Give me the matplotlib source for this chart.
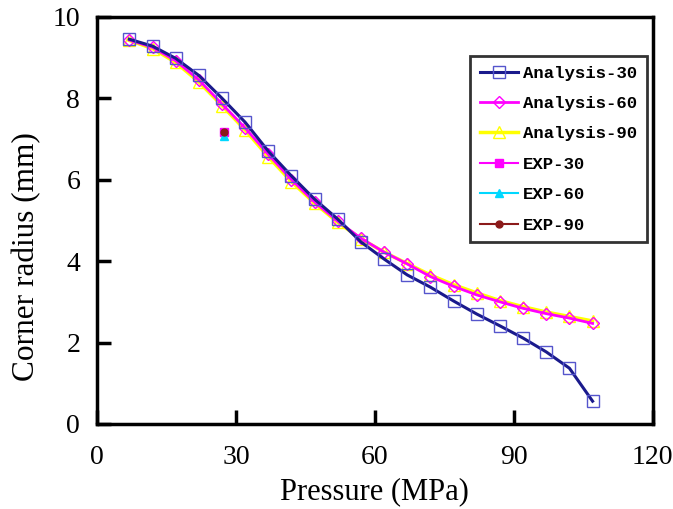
import numpy as np
import matplotlib.pyplot as plt

pressure = [7, 12, 17, 22, 27, 32, 37, 42, 47, 52, 57, 62, 67, 72, 77, 82, 87, 92, 97, 102, 107]
analysis_30 = [9.45, 9.28, 8.98, 8.56, 8.0, 7.41, 6.7, 6.09, 5.52, 5.03, 4.47, 4.05, 3.66, 3.36, 3.02, 2.7, 2.41, 2.11, 1.77, 1.37, 0.56]
analysis_60 = [9.43, 9.25, 8.92, 8.45, 7.86, 7.27, 6.62, 6.0, 5.45, 4.98, 4.56, 4.22, 3.93, 3.62, 3.38, 3.17, 3.0, 2.84, 2.71, 2.6, 2.47]
analysis_90 = [9.42, 9.22, 8.88, 8.40, 7.82, 7.22, 6.56, 5.95, 5.42, 4.95, 4.55, 4.22, 3.94, 3.66, 3.42, 3.22, 3.03, 2.88, 2.75, 2.64, 2.53]
exp_p = [27.5]
exp_30 = [7.16]
exp_60 = [7.08]
exp_90 = [7.17]

fig = plt.figure(figsize=(6.73, 5.09), dpi=100)
ax = fig.add_axes([0.144, 0.167, 0.826, 0.800])

ax.plot(pressure, analysis_90, color="yellow", lw=2.5, marker="^", ms=8, mfc="none", mec="yellow", label="Analysis-90", zorder=2)
ax.plot(pressure, analysis_60, color="magenta", lw=2, marker="D", ms=6, mfc="none", mec="magenta", label="Analysis-60", zorder=3)
ax.plot(pressure, analysis_30, color="#1a1a8c", lw=2.2, marker="s", ms=8.5, mfc="none", mec="#5555cc", label="Analysis-30", zorder=4)
ax.plot(exp_p, exp_30, color="magenta", marker="s", ms=6, lw=1.5, label="EXP-30")
ax.plot(exp_p, exp_60, color="#00d8ff", marker="^", ms=6, lw=1.5, label="EXP-60")
ax.plot(exp_p, exp_90, color="#8b1a1a", marker="o", ms=5, lw=1.5, label="EXP-90")

ax.set_xlim(0, 120)
ax.set_ylim(0, 10)
ax.set_xticks([0, 30, 60, 90, 120])
ax.set_yticks([0, 2, 4, 6, 8, 10])
ax.tick_params(direction="in", length=10, width=2.5, labelsize=20)
ax.tick_params(axis="x", pad=15)
ax.tick_params(axis="y", pad=12)
for lab in ax.get_xticklabels() + ax.get_yticklabels():
    lab.set_fontfamily("Liberation Serif")
for s in ax.spines.values():
    s.set_linewidth(2.5)

ax.set_xlabel("Pressure (MPa)", fontsize=22, family="Liberation Serif", labelpad=5)
ax.set_ylabel("Corner radius (mm)", fontsize=22.5, family="Liberation Serif")
ax.yaxis.set_label_coords(-0.10, 0.41)

h, l = ax.get_legend_handles_labels()
order = [2, 1, 0, 3, 4, 5]
leg = ax.legend([h[i] for i in order], [l[i] for i in order], loc="upper right",
                bbox_to_anchor=(0.989, 0.904), fancybox=False, edgecolor="black",
                prop=dict(family="Liberation Mono", size=12.5, weight="bold"), handlelength=2.2,
                handletextpad=0.3, labelspacing=0.88, borderpad=0.55, borderaxespad=0)
leg.get_frame().set_linewidth(2)

plt.savefig("out.png")
